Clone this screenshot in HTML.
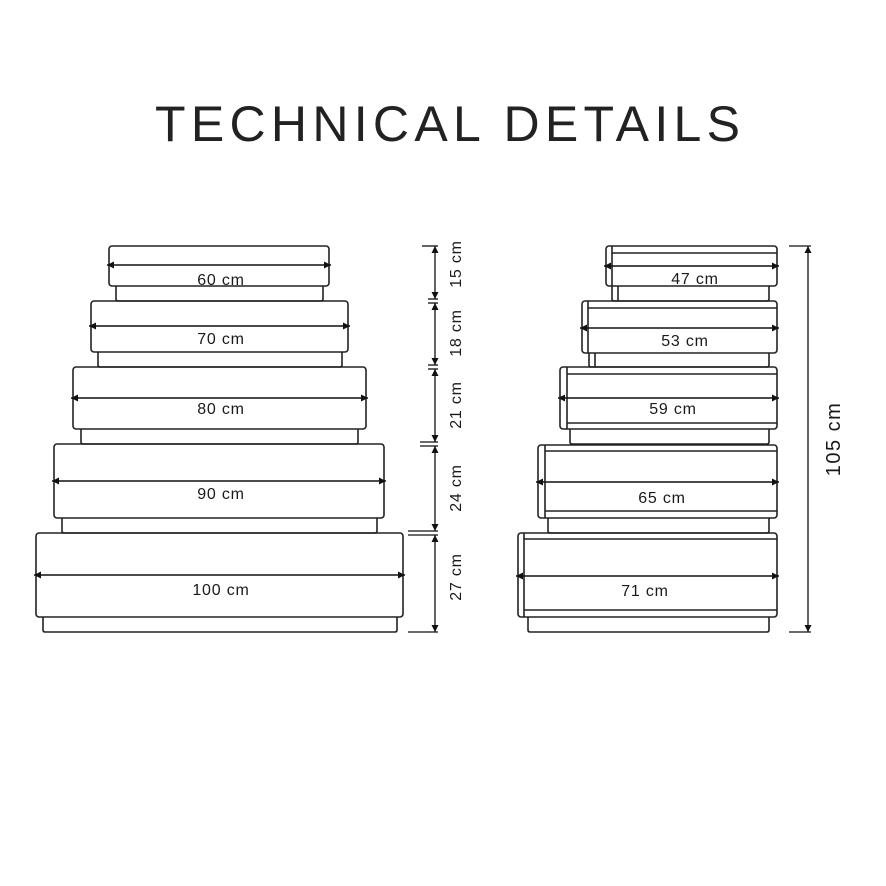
<!DOCTYPE html>
<html><head><meta charset="utf-8"><style>
html,body{margin:0;padding:0;background:#fff;}
svg{display:block;}
text{font-family:"Liberation Sans",sans-serif;fill:#1a1a1a;}
</style></head><body>
<svg width="886" height="886" viewBox="0 0 886 886" xmlns="http://www.w3.org/2000/svg">
<defs>
<marker id="a" viewBox="0 0 10 10" refX="10" refY="5" markerWidth="12" markerHeight="7" markerUnits="userSpaceOnUse" orient="auto-start-reverse"><path d="M0,0L10,5L0,10z" fill="#111"/></marker>
</defs>
<text x="155" y="141" font-size="50" textLength="585" lengthAdjust="spacing" style="fill:#222">TECHNICAL DETAILS</text>

<g fill="none" stroke="#222" stroke-width="1.6">
<rect x="109" y="246" width="220" height="40" rx="3"/>
<path d="M116,286V299q0,2 2,2H321q2,0 2,-2V286"/>
<rect x="91" y="301" width="257" height="51" rx="3"/>
<path d="M98,352V365q0,2 2,2H340q2,0 2,-2V352"/>
<rect x="73" y="367" width="293" height="62" rx="3"/>
<path d="M81,429V442q0,2 2,2H356q2,0 2,-2V429"/>
<rect x="54" y="444" width="330" height="74" rx="3"/>
<path d="M62,518V531q0,2 2,2H375q2,0 2,-2V518"/>
<rect x="36" y="533" width="367" height="84" rx="3"/>
<path d="M43,617V630q0,2 2,2H395q2,0 2,-2V617"/>

<rect x="606" y="246" width="171" height="40" rx="3"/>
<path d="M612,246V286M612,253H777"/>
<path d="M612,286V299q0,2 2,2H767q2,0 2,-2V286M618,286V301"/>
<rect x="582" y="301" width="195" height="52" rx="3"/>
<path d="M588,301V353M588,308H777"/>
<path d="M589,353V365q0,2 2,2H767q2,0 2,-2V353M595,353V367"/>
<rect x="560" y="367" width="217" height="62" rx="3"/>
<path d="M567,367V429M567,374H777M567,423H777"/>
<path d="M570,429V442q0,2 2,2H767q2,0 2,-2V429"/>
<rect x="538" y="445" width="239" height="73" rx="3"/>
<path d="M545,445V518M545,451H777M545,511H777"/>
<path d="M548,518V531q0,2 2,2H767q2,0 2,-2V518"/>
<rect x="518" y="533" width="259" height="84" rx="3"/>
<path d="M524,533V617M524,539H777M524,610H777"/>
<path d="M528,617V630q0,2 2,2H767q2,0 2,-2V617"/>
</g>

<g stroke="#111" stroke-width="1.4" marker-start="url(#a)" marker-end="url(#a)">
<line x1="107" y1="265" x2="331" y2="265"/>
<line x1="89" y1="326" x2="350" y2="326"/>
<line x1="71" y1="398" x2="368" y2="398"/>
<line x1="52" y1="481" x2="386" y2="481"/>
<line x1="34" y1="575" x2="405" y2="575"/>
<line x1="604" y1="266" x2="779" y2="266"/>
<line x1="580" y1="328" x2="779" y2="328"/>
<line x1="558" y1="398" x2="779" y2="398"/>
<line x1="536" y1="482" x2="779" y2="482"/>
<line x1="516" y1="576" x2="779" y2="576"/>
</g>

<g font-size="16" text-anchor="middle" letter-spacing="0.8">
<text x="221" y="285">60 cm</text>
<text x="221" y="344">70 cm</text>
<text x="221" y="414">80 cm</text>
<text x="221" y="499">90 cm</text>
<text x="221" y="595">100 cm</text>
<text x="695" y="284">47 cm</text>
<text x="685" y="346">53 cm</text>
<text x="673" y="414">59 cm</text>
<text x="662" y="503">65 cm</text>
<text x="645" y="596">71 cm</text>
</g>

<g stroke="#111" stroke-width="1.3">
<line x1="422" y1="246" x2="438" y2="246"/>
<line x1="428" y1="299" x2="438" y2="299"/><line x1="428" y1="303" x2="438" y2="303"/>
<line x1="428" y1="365" x2="438" y2="365"/><line x1="428" y1="369" x2="438" y2="369"/>
<line x1="420" y1="442" x2="438" y2="442"/><line x1="420" y1="446" x2="438" y2="446"/>
<line x1="408" y1="531" x2="438" y2="531"/><line x1="408" y1="535" x2="438" y2="535"/>
<line x1="408" y1="632" x2="438" y2="632"/>
</g>
<g stroke="#111" stroke-width="1.3" marker-start="url(#a)" marker-end="url(#a)">
<line x1="435" y1="246" x2="435" y2="299"/>
<line x1="435" y1="303" x2="435" y2="365"/>
<line x1="435" y1="369" x2="435" y2="442"/>
<line x1="435" y1="446" x2="435" y2="531"/>
<line x1="435" y1="535" x2="435" y2="632"/>
<line x1="808" y1="246" x2="808" y2="632"/>
</g>
<g stroke="#111" stroke-width="1.3">
<line x1="789" y1="246" x2="811" y2="246"/>
<line x1="789" y1="632" x2="811" y2="632"/>
</g>
<g font-size="16" text-anchor="middle" letter-spacing="0.8">
<text transform="translate(461,264) rotate(-90)">15 cm</text>
<text transform="translate(461,333) rotate(-90)">18 cm</text>
<text transform="translate(461,405) rotate(-90)">21 cm</text>
<text transform="translate(461,488) rotate(-90)">24 cm</text>
<text transform="translate(461,577) rotate(-90)">27 cm</text>
<text transform="translate(840,439) rotate(-90)" font-size="20" letter-spacing="1.5">105 cm</text>
</g>
</svg>
</body></html>
